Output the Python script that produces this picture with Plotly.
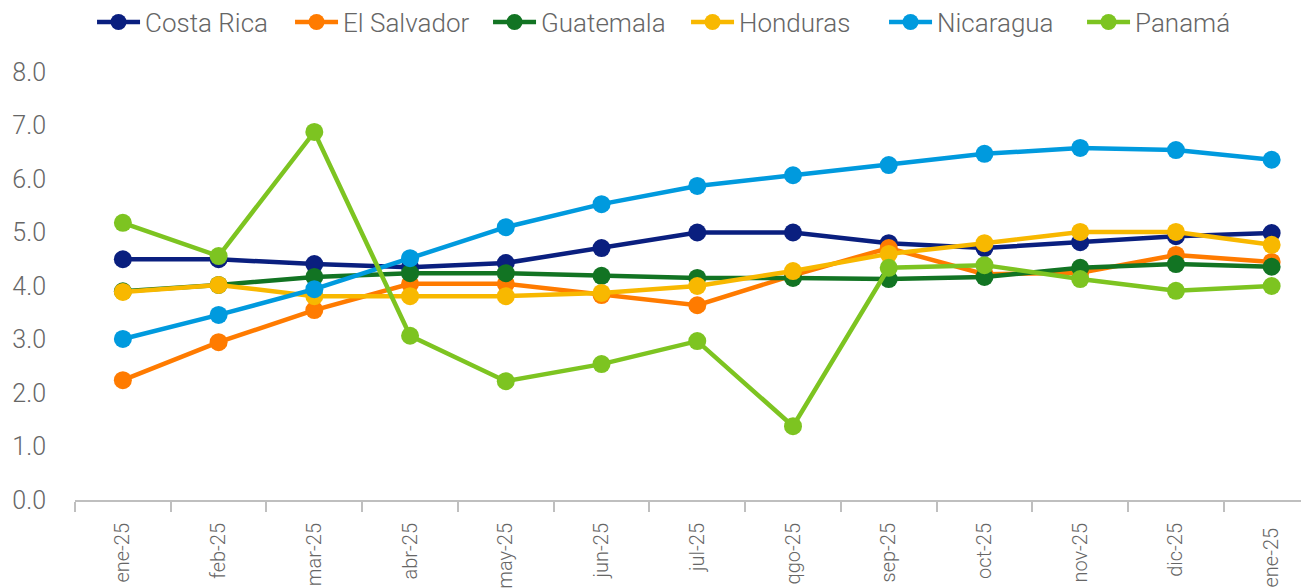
import plotly.graph_objects as go

months = ["ene-25", "feb-25", "mar-25", "abr-25", "may-25", "jun-25", "jul-25",
          "qgo-25", "sep-25", "oct-25", "nov-25", "dic-25", "ene-25 "]

costa_rica = [4.50, 4.50, 4.41, 4.35, 4.43, 4.71, 5.00, 5.00, 4.80, 4.71, 4.82, 4.93, 4.99]
el_salvador = [2.24, 2.95, 3.55, 4.04, 4.04, 3.83, 3.64, 4.20, 4.71, 4.22, 4.25, 4.58, 4.45]
guatemala = [3.90, 4.02, 4.17, 4.24, 4.24, 4.19, 4.15, 4.15, 4.13, 4.17, 4.34, 4.41, 4.36]
honduras = [3.89, 4.02, 3.81, 3.81, 3.81, 3.87, 4.00, 4.28, 4.60, 4.80, 5.01, 5.01, 4.77]
nicaragua = [3.01, 3.46, 3.94, 4.52, 5.10, 5.53, 5.87, 6.07, 6.26, 6.47, 6.58, 6.54, 6.36]
panama = [5.18, 4.56, 6.88, 3.07, 2.22, 2.54, 2.97, 1.38, 4.34, 4.39, 4.13, 3.91, 4.00]

series = [
    ("Costa Rica", costa_rica, "#0A1F7F"),
    ("El Salvador", el_salvador, "#FF7B00"),
    ("Guatemala", guatemala, "#127423"),
    ("Honduras", honduras, "#F8B800"),
    ("Nicaragua", nicaragua, "#009ADE"),
    ("Panamá", panama, "#7DC421"),
]

fig = go.Figure()
for name, vals, color in series:
    fig.add_trace(go.Scatter(
        x=months, y=vals, name=name, mode="lines+markers",
        line=dict(color=color, width=4.5),
        marker=dict(color=color, size=18),
    ))

font_family = "Roboto"
fig.update_layout(
    width=1309, height=588,
    paper_bgcolor="white", plot_bgcolor="white",
    margin=dict(l=67, r=8, t=64, b=96),
    font=dict(family=font_family, color="#666666", weight=300),
    showlegend=True,
    legend=dict(
        orientation="h", x=0.0642, xref="container", xanchor="left",
        y=0.976, yref="container", yanchor="middle",
        font=dict(family=font_family, size=26, color="#666666", weight=300),
        itemwidth=43, traceorder="normal",
        entrywidth=140, entrywidthmode="pixels",
    ),
    xaxis=dict(
        type="category", range=[-0.5, 12.39], automargin=False,
        showgrid=False, showline=True, linecolor="#BFBFBF", linewidth=2,
        ticks="outside", tickson="boundaries", ticklen=10, tickcolor="#BFBFBF",
        tickwidth=2,
        tickangle=-90, tickfont=dict(family=font_family, size=20, color="#666666", weight=300),
        ticklabelstandoff=13,
    ),
    yaxis=dict(
        range=[0, 8], dtick=1, tickformat=".1f", automargin=False,
        showgrid=False, zeroline=False, showline=False,
        tickfont=dict(family=font_family, size=25, color="#666666", weight=300),
        ticklabelstandoff=28,
    ),
)

fig.write_html("out.html")
